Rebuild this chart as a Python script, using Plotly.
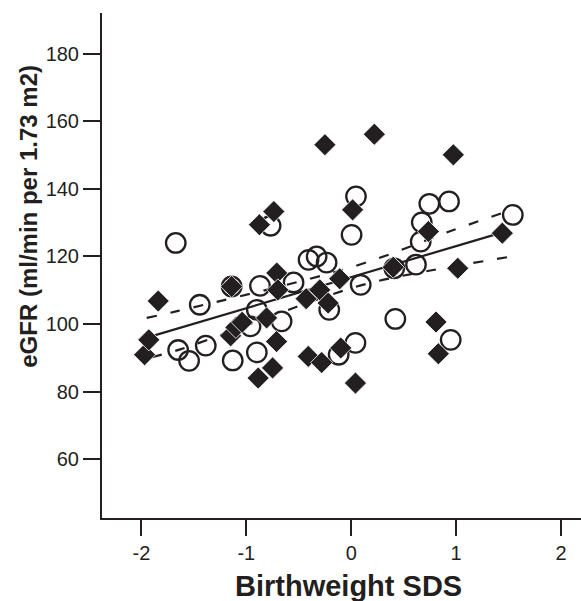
import plotly.graph_objects as go

# Filled diamonds (group 1)
dia_x = [-1.97, -1.93, -1.84, -1.15, -1.10, -1.04, -1.14, -0.875, -0.738, -0.887, -0.75,
         -0.807, -0.712, -0.71, -0.70, -0.43, -0.30, -0.22, -0.251, -0.41, -0.282, -0.10,
         0.04, -0.11, 0.013, 0.22, 0.40, 0.735, 0.808, 0.83, 0.973, 1.015, 1.44]
dia_y = [90.9, 95.3, 106.8, 96.5, 99.0, 100.5, 111.1, 129.4, 133.3, 84.0, 87.0,
         101.8, 94.8, 115.1, 110.1, 107.5, 110.1, 106.2, 153.1, 90.4, 88.6, 92.9,
         82.5, 113.4, 133.8, 156.2, 116.8, 127.4, 100.6, 91.2, 150.1, 116.5, 126.9]

# Open circles (group 2)
cir_x = [-1.673, -1.444, -1.65, -1.546, -1.387, -1.14, -1.13, -0.96, -0.90, -0.90, -0.87,
         -0.769, -0.664, -0.55, -0.407, -0.330, -0.235, -0.21, -0.12, 0.04, 0.003, 0.045,
         0.09, 0.41, 0.42, 0.617, 0.662, 0.672, 0.744, 0.932, 0.948, 1.54]
cir_y = [124.0, 105.7, 92.3, 89.1, 93.6, 111.1, 89.2, 99.3, 104.2, 91.6, 111.3,
         129.1, 100.8, 112.3, 119.0, 120.0, 118.2, 104.2, 90.9, 94.4, 126.4, 137.8,
         111.6, 116.5, 101.5, 117.6, 124.4, 130.1, 135.6, 136.3, 95.3, 132.3]

# Regression line and confidence band
fit_x = [-1.9, 1.45]
fit_y = [96.4, 127.2]
up_x = [-1.95, -1.66, 0.03, 0.98, 1.55]
up_y = [101.8, 103.8, 117.1, 127.9, 134.0]
lo_x = [-1.9, -1.63, -0.2, 0.25, 1.51]
lo_y = [90.2, 92.5, 108.6, 112.7, 119.9]

x_ticks = [-2, -1, 0, 1, 2]
y_ticks = [60, 80, 100, 120, 140, 160, 180]

ink = "#231f20"
fig = go.Figure()
fig.add_trace(go.Scatter(x=up_x, y=up_y, mode="lines", line=dict(color=ink, width=2.2, dash="10px,14px", shape="spline")))
fig.add_trace(go.Scatter(x=lo_x, y=lo_y, mode="lines", line=dict(color=ink, width=2.2, dash="10px,14px", shape="spline")))
fig.add_trace(go.Scatter(x=fit_x, y=fit_y, mode="lines", line=dict(color=ink, width=2.2)))
fig.add_trace(go.Scatter(x=cir_x, y=cir_y, mode="markers",
                         marker=dict(symbol="circle-open", size=19.5, color=ink, line=dict(width=2.3, color=ink))))
fig.add_trace(go.Scatter(x=dia_x, y=dia_y, mode="markers",
                         marker=dict(symbol="diamond", size=17, color=ink, line=dict(width=0.8, color="white"))))

font_tick = dict(family="Liberation Sans, Arial, sans-serif", size=20, color=ink)
fig.update_layout(
    width=581, height=601, showlegend=False,
    margin=dict(l=102, r=0, t=13, b=83),
    plot_bgcolor="white", paper_bgcolor="white",
    xaxis=dict(range=[-2.376, 2.19], tickvals=x_ticks, ticktext=[str(v) for v in x_ticks],
               showgrid=False, zeroline=False, showline=True, linecolor=ink, linewidth=2,
               ticks="outside", ticklen=16, tickwidth=2, tickcolor=ink, tickfont=font_tick),
    yaxis=dict(range=[42.55, 192.1], tickvals=y_ticks, ticktext=[str(v) for v in y_ticks],
               showgrid=False, zeroline=False, showline=True, linecolor=ink, linewidth=2,
               ticks="outside", ticklen=17, tickwidth=2, tickcolor=ink, tickfont=font_tick),
    annotations=[
        dict(text="<b>Birthweight SDS</b>", xref="paper", yref="paper", x=0.514, y=-0.134,
             xanchor="center", yanchor="middle", showarrow=False,
             font=dict(family="Liberation Sans, Arial, sans-serif", size=29, color=ink)),
        dict(text="<b>eGFR (ml/min per 1.73 m2)</b>", xref="paper", yref="paper", x=-0.155, y=0.598,
             xanchor="center", yanchor="middle", textangle=-90, showarrow=False,
             font=dict(family="Liberation Sans, Arial, sans-serif", size=24, color=ink)),
    ],
)
fig.write_html("out.html", config={"displayModeBar": False},
               post_script="document.body.style.margin='0';document.body.style.overflow='hidden';")
